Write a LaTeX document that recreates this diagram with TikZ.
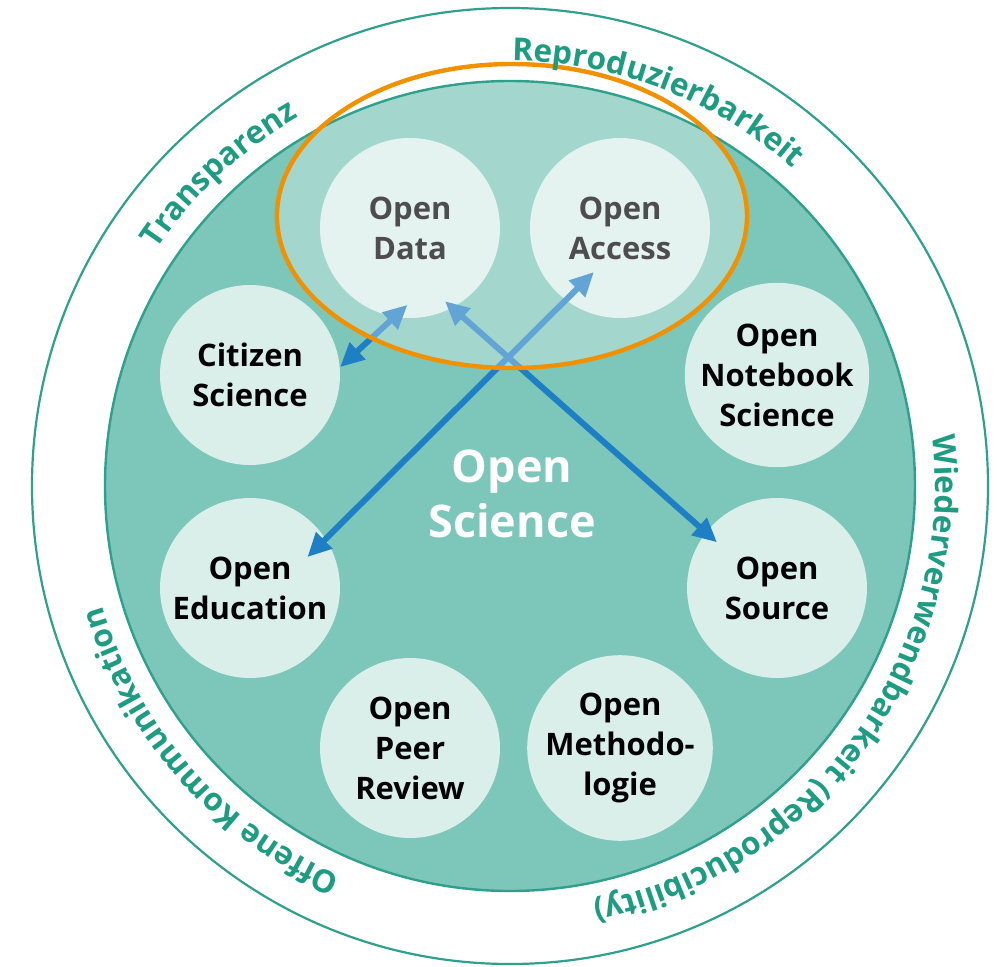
\documentclass[tikz,border=0pt]{standalone}
\usepackage{fontspec}
\setmainfont{Open Sans}
\usepackage{tikz}
\usetikzlibrary{arrows.meta,decorations.text}

\definecolor{ringteal}{HTML}{1E9C82}
\definecolor{disc}{HTML}{7CC6BA}
\definecolor{discline}{HTML}{2FA08C}
\definecolor{bubble}{HTML}{DAEEEA}
\definecolor{arrowblue}{HTML}{1F7FC4}
\definecolor{ovalorange}{HTML}{F29100}
\newcommand\ringfont{\bfseries\fontsize{15.8}{18}\selectfont}

\begin{document}
\begin{tikzpicture}[x=0.5pt,y=0.5pt,
  topic/.style={circle,fill=bubble,minimum size=90pt,inner sep=0pt,align=center,
    font=\bfseries\fontsize{15.5}{20}\selectfont},
  link/.style={{Triangle[length=12pt,width=11pt]}-{Triangle[length=12pt,width=11pt]},
    line width=3pt,arrowblue},
  ringtext/.style={decorate,decoration={text along path,text align=center,
    text color=ringteal,text={|\ringfont|#1}}}]
\useasboundingbox (-510,-480) rectangle (487,486);

\draw[discline,line width=1.1pt] (0,0) circle[radius=478];
\fill[disc] (0,0) circle[radius=405];

\node [topic] (data) at (-100,258) {Open\\Data};
\node [topic] (access) at (110,258) {Open\\Access};
\node [topic] (citizen) at (-260,111) {Citizen\\Science};
\node [topic] (notebook) at (267,111) {Open\\Notebook\\Science};
\node [topic] (education) at (-260,-102) {Open\\Education};
\node [topic] (source) at (267,-102) {Open\\Source};
\node [topic] (peer) at (-100,-262) {Open\\Peer\\Review};
\node [topic] (method) at (110,-262) {Open\\Methodo-\\logie};

\draw[link,shorten >=-9pt] (citizen.5) -- (data.260);
\draw[link,shorten <=-13pt,shorten >=-20pt] (education.33) -- (access.233);
\draw[link,shorten <=-5pt,shorten >=-7.5pt] (data.298) -- (source.142);

% lighter zone round the two top bubbles
\begin{scope}
  \clip (0,0) circle[radius=405];
  \fill[white,fill opacity=0.3] (2,270) ellipse[x radius=235,y radius=152];
\end{scope}
\draw[discline,line width=1.2pt] (0,0) circle[radius=405];
\draw[ovalorange,line width=2.2pt] (2,270) ellipse[x radius=235,y radius=152];

\node [text=white,align=center,font=\bfseries\fontsize{22.5}{27.5}\selectfont] (os) at (2,-8) {Open\\Science};

\path[ringtext=Transparenz] (173:425) arc[start angle=173,end angle=93,radius=425];
\path[ringtext=Reproduzierbarkeit] (109:425) arc[start angle=109,end angle=29,radius=425];
\path[ringtext={Wiederverwendbarkeit (Reproducibility)}] (32:425) arc[start angle=32,end angle=-104,radius=425];
\path[ringtext={Offene Kommunikation}] (266:425) arc[start angle=266,end angle=177,radius=425];
\end{tikzpicture}
\end{document}
